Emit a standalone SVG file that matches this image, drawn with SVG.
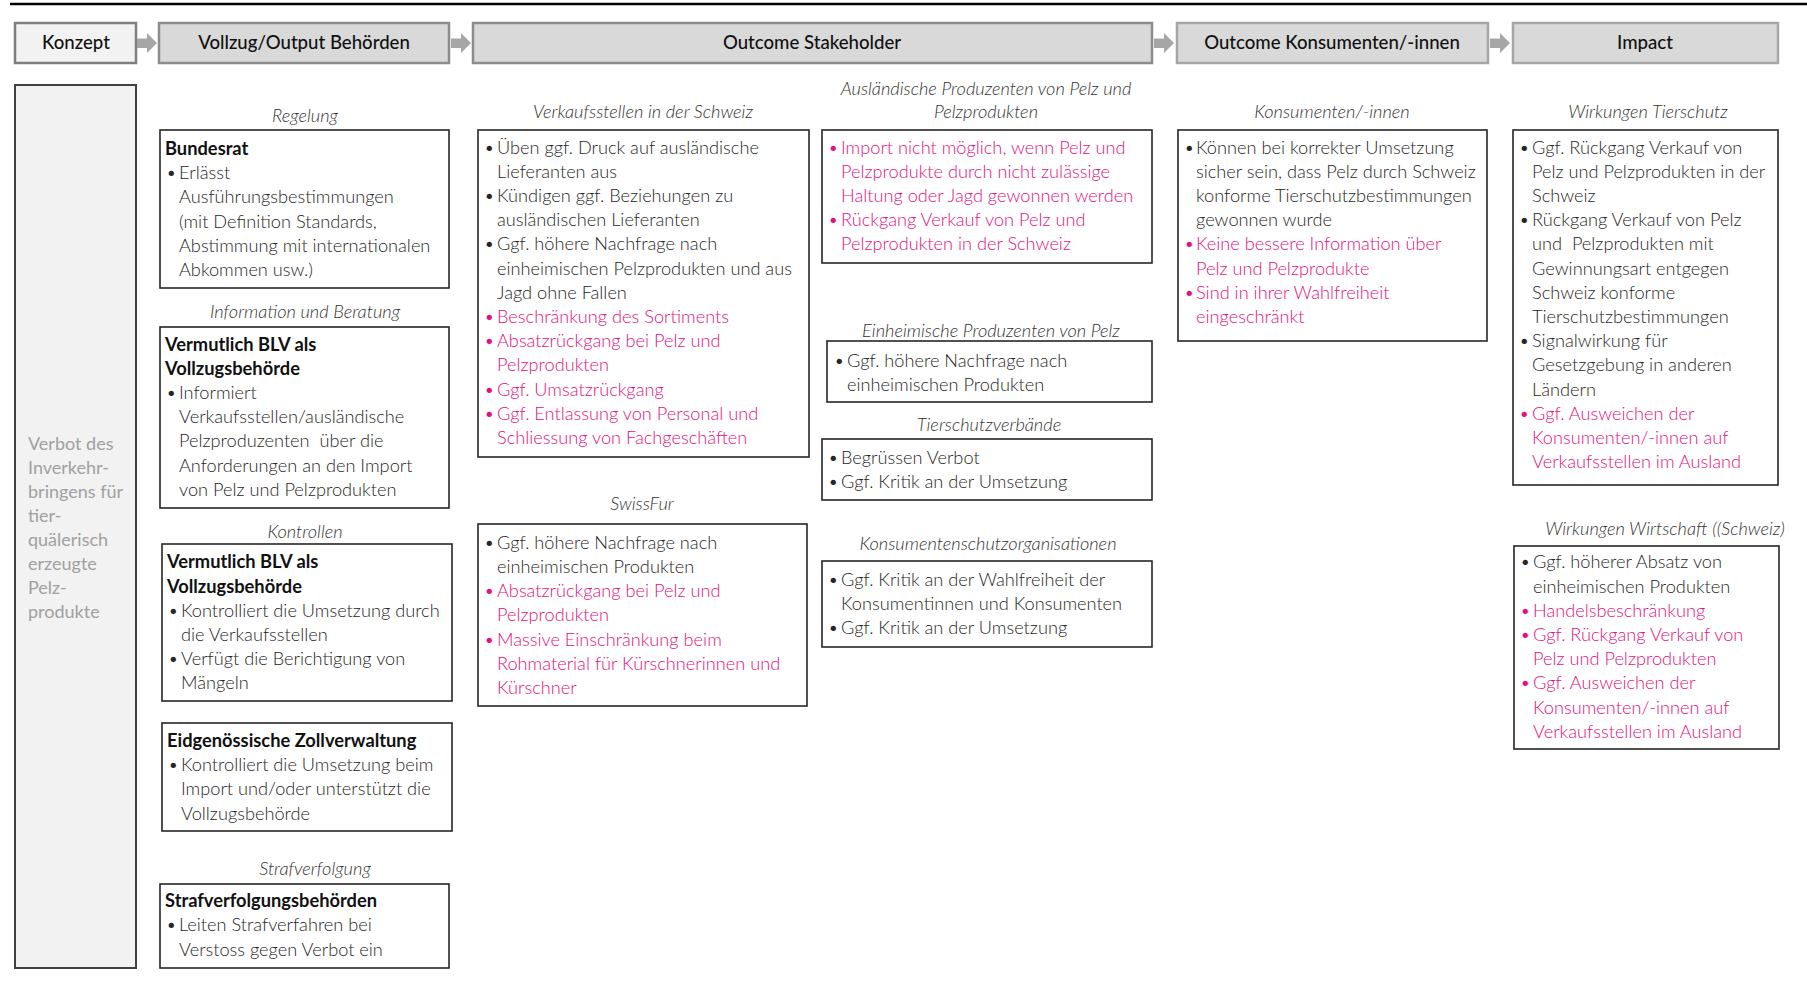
<svg xmlns="http://www.w3.org/2000/svg" width="1807" height="983" viewBox="0 0 1807 983">
<style>
text{font-family:Lato,"Open Sans","Liberation Sans",sans-serif}
.h{font-size:18.6px;fill:#111;text-anchor:middle;font-weight:500}
.hb{stroke-width:2.5}
.b{font-size:18.2px;fill:#262626;font-weight:300}
.p{fill:#e4117e}
.t{font-size:18.3px;fill:#111;font-weight:bold}
.l{font-size:18.2px;fill:#333;font-style:italic;font-weight:300;text-anchor:middle}
.box{fill:#fff;stroke:#262626;stroke-width:1.6}
.lt{font-size:18px;fill:#a0a0a0}
.arr{fill:#a6a6a6}
</style>
<rect width="1807" height="983" fill="#fff"/>
<line x1="10" y1="4" x2="1807" y2="4" stroke="#000" stroke-width="2.5"/>

<g id="header-konzept"><rect class="hb" x="15" y="23" width="121" height="40" fill="#f2f2f2" stroke="#7f7f7f"/><text class="h" x="76" y="49">Konzept</text></g>
<g id="header-vollzug"><rect class="hb" x="159" y="23" width="290" height="40" fill="#d9d9d9" stroke="#8c8c8c"/><text class="h" x="304" y="49">Vollzug/Output Behörden</text></g>
<g id="header-outcome-stakeholder"><rect class="hb" x="473" y="23" width="679" height="40" fill="#d9d9d9" stroke="#8c8c8c"/><text class="h" x="812" y="49">Outcome Stakeholder</text></g>
<g id="header-outcome-konsumenten"><rect class="hb" x="1177" y="23" width="311" height="40" fill="#d9d9d9" stroke="#a6a6a6"/><text class="h" x="1332" y="49">Outcome Konsumenten/-innen</text></g>
<g id="header-impact"><rect class="hb" x="1513" y="23" width="265" height="40" fill="#d9d9d9" stroke="#a6a6a6"/><text class="h" x="1645" y="49">Impact</text></g>

<g id="connectors">
<polygon class="arr" points="137,38.5 147,38.5 147,33 157,43 147,53 147,48 137,48"/>
<polygon class="arr" points="451,38.5 461,38.5 461,33 471,43 461,53 461,48 451,48"/>
<polygon class="arr" points="1154,38.5 1164,38.5 1164,33 1174,43 1164,53 1164,48 1154,48"/>
<polygon class="arr" points="1490,38.5 1500,38.5 1500,33 1510,43 1500,53 1500,48 1490,48"/>
</g>

<g id="konzept-box">
<rect x="15" y="85" width="121" height="883" fill="#f2f2f2" stroke="#404040" stroke-width="2"/>
<text class="lt" x="28" y="449.7">Verbot des</text>
<text class="lt" x="28" y="473.7">Inverkehr-</text>
<text class="lt" x="28" y="497.7">bringens für</text>
<text class="lt" x="28" y="521.7">tier-</text>
<text class="lt" x="28" y="545.7">quälerisch</text>
<text class="lt" x="28" y="569.7">erzeugte</text>
<text class="lt" x="28" y="593.7">Pelz-</text>
<text class="lt" x="28" y="617.7">produkte</text>
</g>

<g id="bundesrat">
<text class="l" x="305" y="122.4">Regelung</text>
<rect class="box" x="160" y="130" width="289" height="158"/>
<text class="t" x="165" y="155">Bundesrat</text>
<text class="b" y="179.2"><tspan x="166">•</tspan><tspan x="179">Erlässt</tspan></text>
<text class="b" x="179" y="203.4">Ausführungsbestimmungen</text>
<text class="b" x="179" y="227.6">(mit Definition Standards,</text>
<text class="b" x="179" y="251.8">Abstimmung mit internationalen</text>
<text class="b" x="179" y="276">Abkommen usw.)</text>
</g>

<g id="blv-information">
<text class="l" x="305" y="318.3">Information und Beratung</text>
<rect class="box" x="160" y="327" width="289" height="181"/>
<text class="t" x="165" y="350.6">Vermutlich BLV als</text>
<text class="t" x="165" y="374.8">Vollzugsbehörde</text>
<text class="b" y="399"><tspan x="166">•</tspan><tspan x="179">Informiert</tspan></text>
<text class="b" x="179" y="423.2">Verkaufsstellen/ausländische</text>
<text class="b" x="179" y="447.4" xml:space="preserve">Pelzproduzenten  über die</text>
<text class="b" x="179" y="471.6">Anforderungen an den Import</text>
<text class="b" x="179" y="495.8">von Pelz und Pelzprodukten</text>
</g>

<g id="blv-kontrollen">
<text class="l" x="305" y="538.4">Kontrollen</text>
<rect class="box" x="162" y="544" width="290" height="157"/>
<text class="t" x="167" y="568.4">Vermutlich BLV als</text>
<text class="t" x="167" y="592.6">Vollzugsbehörde</text>
<text class="b" y="616.8"><tspan x="168">•</tspan><tspan x="181">Kontrolliert die Umsetzung durch</tspan></text>
<text class="b" x="181" y="641">die Verkaufsstellen</text>
<text class="b" y="665.2"><tspan x="168">•</tspan><tspan x="181">Verfügt die Berichtigung von</tspan></text>
<text class="b" x="181" y="689.4">Mängeln</text>
</g>

<g id="zollverwaltung">
<rect class="box" x="162" y="723" width="290" height="108"/>
<text class="t" x="167" y="747">Eidgenössische Zollverwaltung</text>
<text class="b" y="771.2"><tspan x="168">•</tspan><tspan x="181">Kontrolliert die Umsetzung beim</tspan></text>
<text class="b" x="181" y="795.4">Import und/oder unterstützt die</text>
<text class="b" x="181" y="819.6">Vollzugsbehörde</text>
</g>

<g id="strafverfolgung">
<text class="l" x="315" y="874.9">Strafverfolgung</text>
<rect class="box" x="160" y="884" width="289" height="84"/>
<text class="t" x="165" y="907.2">Strafverfolgungsbehörden</text>
<text class="b" y="931.4"><tspan x="166">•</tspan><tspan x="179">Leiten Strafverfahren bei</tspan></text>
<text class="b" x="179" y="955.6">Verstoss gegen Verbot ein</text>
</g>

<g id="verkaufsstellen">
<text class="l" x="643" y="117.8">Verkaufsstellen in der Schweiz</text>
<rect class="box" x="478" y="130" width="331" height="327"/>
<text class="b" y="153.5"><tspan x="484">•</tspan><tspan x="497">Üben ggf. Druck auf ausländische</tspan></text>
<text class="b" x="497" y="177.7">Lieferanten aus</text>
<text class="b" y="201.9"><tspan x="484">•</tspan><tspan x="497">Kündigen ggf. Beziehungen zu</tspan></text>
<text class="b" x="497" y="226.1">ausländischen Lieferanten</text>
<text class="b" y="250.3"><tspan x="484">•</tspan><tspan x="497">Ggf. höhere Nachfrage nach</tspan></text>
<text class="b" x="497" y="274.5">einheimischen Pelzprodukten und aus</text>
<text class="b" x="497" y="298.7">Jagd ohne Fallen</text>
<text class="b p" y="322.9"><tspan x="484">•</tspan><tspan x="497">Beschränkung des Sortiments</tspan></text>
<text class="b p" y="347.1"><tspan x="484">•</tspan><tspan x="497">Absatzrückgang bei Pelz und</tspan></text>
<text class="b p" x="497" y="371.3">Pelzprodukten</text>
<text class="b p" y="395.5"><tspan x="484">•</tspan><tspan x="497">Ggf. Umsatzrückgang</tspan></text>
<text class="b p" y="419.7"><tspan x="484">•</tspan><tspan x="497">Ggf. Entlassung von Personal und</tspan></text>
<text class="b p" x="497" y="443.9">Schliessung von Fachgeschäften</text>
</g>

<g id="swissfur">
<text class="l" x="642" y="509.6">SwissFur</text>
<rect class="box" x="478" y="524" width="329" height="182"/>
<text class="b" y="548.8"><tspan x="484">•</tspan><tspan x="497">Ggf. höhere Nachfrage nach</tspan></text>
<text class="b" x="497" y="573">einheimischen Produkten</text>
<text class="b p" y="597.2"><tspan x="484">•</tspan><tspan x="497">Absatzrückgang bei Pelz und</tspan></text>
<text class="b p" x="497" y="621.4">Pelzprodukten</text>
<text class="b p" y="645.6"><tspan x="484">•</tspan><tspan x="497">Massive Einschränkung beim</tspan></text>
<text class="b p" x="497" y="669.8">Rohmaterial für Kürschnerinnen und</text>
<text class="b p" x="497" y="694">Kürschner</text>
</g>

<g id="auslaendische-produzenten">
<text class="l" x="986" y="94.7">Ausländische Produzenten von Pelz und</text>
<text class="l" x="986" y="117.8">Pelzprodukten</text>
<rect class="box" x="822" y="130" width="330" height="133"/>
<text class="b p" y="153.5"><tspan x="828">•</tspan><tspan x="841">Import nicht möglich, wenn Pelz und</tspan></text>
<text class="b p" x="841" y="177.7">Pelzprodukte durch nicht zulässige</text>
<text class="b p" x="841" y="201.9">Haltung oder Jagd gewonnen werden</text>
<text class="b p" y="226.1"><tspan x="828">•</tspan><tspan x="841">Rückgang Verkauf von Pelz und</tspan></text>
<text class="b p" x="841" y="250.3">Pelzprodukten in der Schweiz</text>
</g>

<g id="einheimische-produzenten">
<text class="l" x="991" y="336.7">Einheimische Produzenten von Pelz</text>
<rect class="box" x="827" y="341" width="325" height="61"/>
<text class="b" y="366.7"><tspan x="834">•</tspan><tspan x="847">Ggf. höhere Nachfrage nach</tspan></text>
<text class="b" x="847" y="390.9">einheimischen Produkten</text>
</g>

<g id="tierschutzverbaende">
<text class="l" x="989" y="431.2">Tierschutzverbände</text>
<rect class="box" x="822" y="439" width="330" height="61"/>
<text class="b" y="463.5"><tspan x="828">•</tspan><tspan x="841">Begrüssen Verbot</tspan></text>
<text class="b" y="487.7"><tspan x="828">•</tspan><tspan x="841">Ggf. Kritik an der Umsetzung</tspan></text>
</g>

<g id="konsumentenschutz">
<text class="l" x="988" y="549.9">Konsumentenschutzorganisationen</text>
<rect class="box" x="822" y="561" width="330" height="86"/>
<text class="b" y="585.7"><tspan x="828">•</tspan><tspan x="841">Ggf. Kritik an der Wahlfreiheit der</tspan></text>
<text class="b" x="841" y="609.9">Konsumentinnen und Konsumenten</text>
<text class="b" y="634.1"><tspan x="828">•</tspan><tspan x="841">Ggf. Kritik an der Umsetzung</tspan></text>
</g>

<g id="konsumenten">
<text class="l" x="1332" y="117.8">Konsumenten/-innen</text>
<rect class="box" x="1178" y="130" width="309" height="211"/>
<text class="b" y="153.5"><tspan x="1184">•</tspan><tspan x="1196">Können bei korrekter Umsetzung</tspan></text>
<text class="b" x="1196" y="177.7">sicher sein, dass Pelz durch Schweiz</text>
<text class="b" x="1196" y="201.9">konforme Tierschutzbestimmungen</text>
<text class="b" x="1196" y="226.1">gewonnen wurde</text>
<text class="b p" y="250.3"><tspan x="1184">•</tspan><tspan x="1196">Keine bessere Information über</tspan></text>
<text class="b p" x="1196" y="274.5">Pelz und Pelzprodukte</text>
<text class="b p" y="298.7"><tspan x="1184">•</tspan><tspan x="1196">Sind in ihrer Wahlfreiheit</tspan></text>
<text class="b p" x="1196" y="322.9">eingeschränkt</text>
</g>

<g id="wirkungen-tierschutz">
<text class="l" x="1648" y="117.8">Wirkungen Tierschutz</text>
<rect class="box" x="1513" y="130" width="265" height="355"/>
<text class="b" y="153.5"><tspan x="1519">•</tspan><tspan x="1532">Ggf. Rückgang Verkauf von</tspan></text>
<text class="b" x="1532" y="177.7">Pelz und Pelzprodukten in der</text>
<text class="b" x="1532" y="201.9">Schweiz</text>
<text class="b" y="226.1"><tspan x="1519">•</tspan><tspan x="1532">Rückgang Verkauf von Pelz</tspan></text>
<text class="b" x="1532" y="250.3" xml:space="preserve">und  Pelzprodukten mit</text>
<text class="b" x="1532" y="274.5">Gewinnungsart entgegen</text>
<text class="b" x="1532" y="298.7">Schweiz konforme</text>
<text class="b" x="1532" y="322.9">Tierschutzbestimmungen</text>
<text class="b" y="347.1"><tspan x="1519">•</tspan><tspan x="1532">Signalwirkung für</tspan></text>
<text class="b" x="1532" y="371.3">Gesetzgebung in anderen</text>
<text class="b" x="1532" y="395.5">Ländern</text>
<text class="b p" y="419.7"><tspan x="1519">•</tspan><tspan x="1532">Ggf. Ausweichen der</tspan></text>
<text class="b p" x="1532" y="443.9">Konsumenten/-innen auf</text>
<text class="b p" x="1532" y="468.1">Verkaufsstellen im Ausland</text>
</g>

<g id="wirkungen-wirtschaft">
<text class="l" x="1665" y="535">Wirkungen Wirtschaft ((Schweiz)</text>
<rect class="box" x="1514" y="546" width="265" height="203"/>
<text class="b" y="568.4"><tspan x="1520">•</tspan><tspan x="1533">Ggf. höherer Absatz von</tspan></text>
<text class="b" x="1533" y="592.6">einheimischen Produkten</text>
<text class="b p" y="616.8"><tspan x="1520">•</tspan><tspan x="1533">Handelsbeschränkung</tspan></text>
<text class="b p" y="641"><tspan x="1520">•</tspan><tspan x="1533">Ggf. Rückgang Verkauf von</tspan></text>
<text class="b p" x="1533" y="665.2">Pelz und Pelzprodukten</text>
<text class="b p" y="689.4"><tspan x="1520">•</tspan><tspan x="1533">Ggf. Ausweichen der</tspan></text>
<text class="b p" x="1533" y="713.6">Konsumenten/-innen auf</text>
<text class="b p" x="1533" y="737.8">Verkaufsstellen im Ausland</text>
</g>
</svg>
